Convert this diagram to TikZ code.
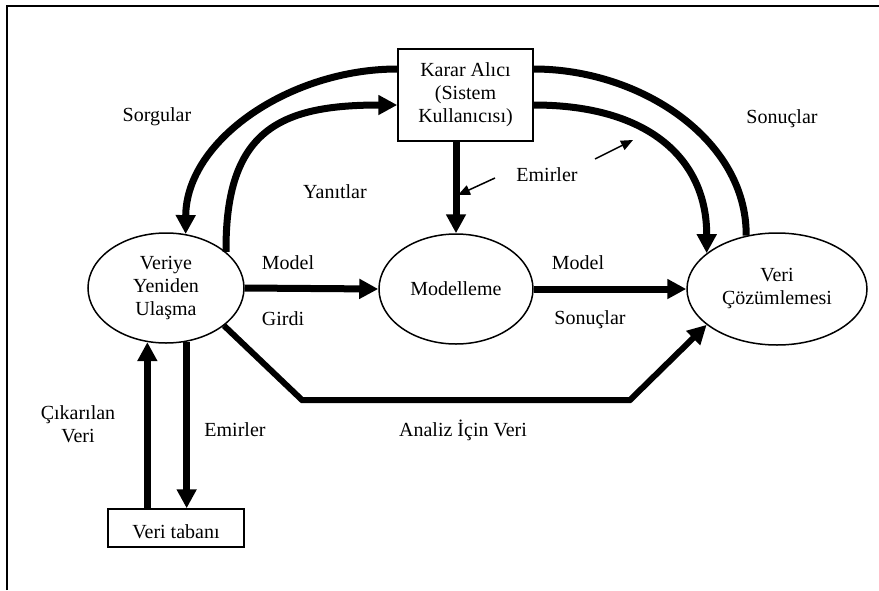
\documentclass[tikz,border=0pt]{standalone}
\usepackage{fontspec}
\setmainfont{Liberation Serif}
\usetikzlibrary{arrows.meta,shapes.geometric}
\begin{document}
\begin{tikzpicture}[x=1pt,y=-1pt,
  every node/.style={font=\fontsize{20}{23}\selectfont, inner sep=0pt},
  proc/.style={draw, line width=1.5pt, ellipse, align=center},
  boxnode/.style={draw, line width=1.5pt, rectangle, align=center},
  flow/.style={line width=7pt, -{Triangle[length=19pt,width=19pt]}},
  flowplain/.style={line width=7pt},
  pointer/.style={line width=1.5pt, -{Triangle[length=12pt,width=10pt]}},
  lbl/.style={align=center}]
\useasboundingbox (0,0) rectangle (879,590);
\fill[white] (0,0) rectangle (879,590);
% frame
\draw[line width=1.5pt] (7,590) -- (7,6) -- (879,6);

% nodes
\node[boxnode, minimum width=135pt, minimum height=92pt] (kar) at (465.5,95) {Karar Alıcı\\(Sistem\\Kullanıcısı)};
\node[proc, minimum width=156pt, minimum height=110pt] (ver) at (166,288) {Veriye\\Yeniden\\Ulaşma};
\node[proc, minimum width=154pt, minimum height=110pt] (mod) at (456,289) {Modelleme};
\node[proc, minimum width=180pt, minimum height=112pt] (coz) at (777,289) {Veri\\Çözümlemesi};
\node[boxnode, minimum width=136pt, minimum height=38pt] (vt) at (176,528) {};
\node[lbl] (vttext) at (176,532) {Veri tabanı};

% straight flows
\draw[flow] (ver.east) -- (mod.west);
\draw[flow] (mod.east) -- (coz.west);
\draw[flow] (mod.north |- kar.south) -- (mod.north);

% database links
\draw[flow] (ver.251 |- vt.north) -- (ver.251);
\draw[flow] (ver.-69) -- (ver.-69 |- vt.north);

% analysis data path
\coordinate (a1) at (302,400);
\coordinate (a2) at (630,400);
\draw[line width=6pt, -{Triangle[length=19pt,width=19pt]}] (ver.-33) -- (a1) -- (a2) -- (coz.207);

% left arcs
\draw[flow] ([yshift=26pt]kar.west) .. controls (290,69) and (186,140) .. (ver.70);
\draw[flow] (ver.31) .. controls (225,130) and (280,105) .. ([yshift=-10pt]kar.west);

% right arcs
\draw[flowplain] ([yshift=26pt]kar.east) .. controls (641,69) and (747,140) .. (coz.120);
\draw[flow] ([yshift=-10pt]kar.east) .. controls (650,105) and (707,160) .. (coz.153);

% pointers for the command label
\coordinate (p1s) at (495,178);
\coordinate (p1t) at (458,195);
\coordinate (p2s) at (595,159);
\coordinate (p2t) at (633,140);
\draw[pointer] (p1s) -- (p1t);
\draw[pointer] (p2s) -- (p2t);

% labels
\node[lbl] (lsorg) at (157,117) {Sorgular};
\node[lbl] (lyan) at (335,192) {Yanıtlar};
\node[lbl] (lemir) at (547,175) {Emirler};
\node[lbl] (lson) at (782,119) {Sonuçlar};
\node[lbl] (lmod1) at (288,263) {Model};
\node[lbl] (lgir) at (283,319) {Girdi};
\node[lbl] (lmod2) at (578,263) {Model};
\node[lbl] (lson2) at (590,320) {Sonuçlar};
\node[lbl] (lanal) at (463,430) {Analiz İçin Veri};
\node[lbl] (lemir2) at (235,430) {Emirler};
\node[lbl] (lcik) at (78,424) {Çıkarılan\\Veri};
\end{tikzpicture}
\end{document}
